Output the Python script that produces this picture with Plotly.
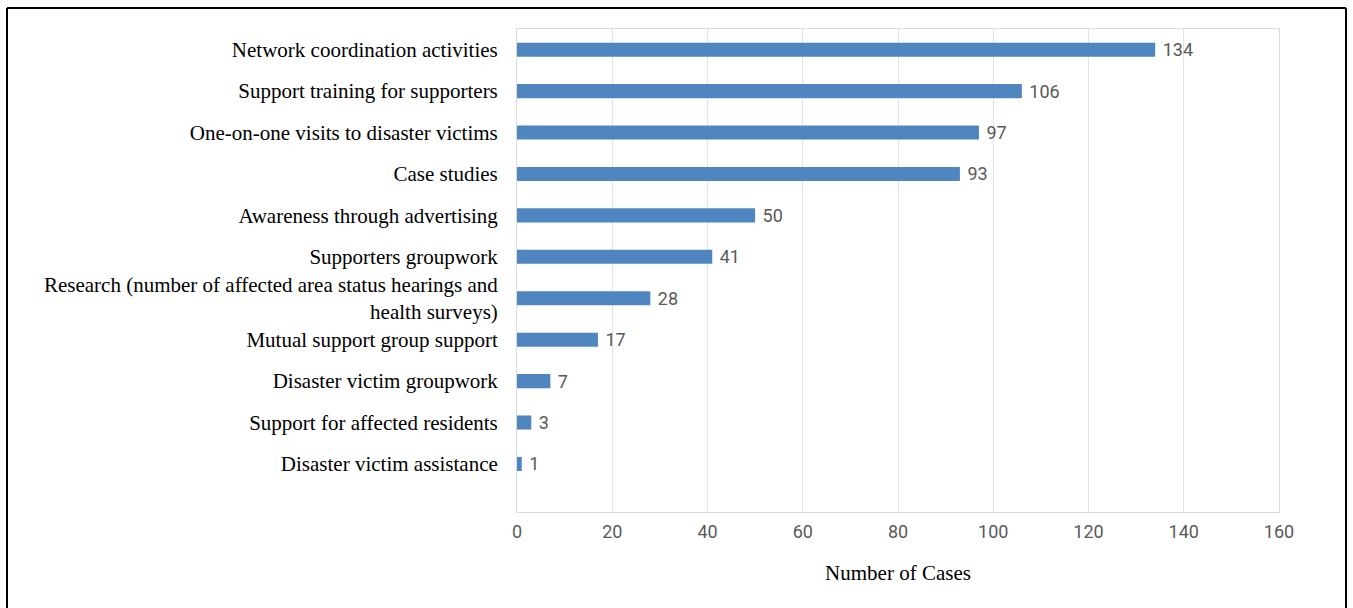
import plotly.graph_objects as go

categories = [
    "Network coordination activities",
    "Support training for supporters",
    "One-on-one visits to disaster victims",
    "Case studies",
    "Awareness through advertising",
    "Supporters groupwork",
    "Research (number of affected area status hearings and<br>health surveys)",
    "Mutual support group support",
    "Disaster victim groupwork",
    "Support for affected residents",
    "Disaster victim assistance",
]
values = [134, 106, 97, 93, 50, 41, 28, 17, 7, 3, 1]
x_ticks = [0, 20, 40, 60, 80, 100, 120, 140, 160]

W, H = 1353, 608
ML, MT = 517, 29
MR = W - 1279
MB = H - 512
pw, ph = W - ML - MR, H - MT - MB

def px_x(p):
    return (p - ML) / pw

def px_y(p):
    return (H - MB - p) / ph

num_font = "Liberation Sans Narrow, Roboto, sans-serif"
serif_font = "Liberation Serif, Times New Roman, serif"

fig = go.Figure(go.Bar(
    x=values, y=categories, orientation="h",
    marker=dict(color="#4f86c0", line=dict(width=0)),
    width=0.34,
    text=["\u00a0" + str(v) for v in values], textposition="outside",
    constraintext="none",
    textfont=dict(family=num_font, size=18, color="#595959"),
    cliponaxis=False,
))

fig.update_layout(
    width=W, height=H,
    margin=dict(l=ML, r=MR, t=MT, b=MB),
    paper_bgcolor="white", plot_bgcolor="white",
    showlegend=False,
    xaxis=dict(
        range=[0, 160], tickvals=x_ticks, ticktext=[str(t) for t in x_ticks],
        showgrid=True, gridcolor="#e3e3e3", gridwidth=1,
        showline=True, linecolor="#dcdcdc", linewidth=1, mirror=True,
        zeroline=False, ticks="", ticklabelstandoff=3,
        tickfont=dict(family=num_font, size=18, color="#595959"),
        title=dict(text="Number of Cases", standoff=24,
                   font=dict(family=serif_font, size=21, color="black")),
    ),
    yaxis=dict(
        type="category", range=[len(categories) - 1 + 1.16, -0.5],
        showgrid=False, showline=True, linecolor="#dcdcdc", mirror=True,
        ticks="", ticklabelstandoff=14,
        tickfont=dict(family=serif_font, size=21, color="black"),
    ),
)

border = dict(color="black", width=2)
fig.add_shape(type="line", xref="paper", yref="paper",
              x0=px_x(7), x1=px_x(7), y0=px_y(8), y1=px_y(620), line=border)
fig.add_shape(type="line", xref="paper", yref="paper",
              x0=px_x(7), x1=px_x(1346), y0=px_y(8), y1=px_y(8), line=border)
fig.add_shape(type="line", xref="paper", yref="paper",
              x0=px_x(1346), x1=px_x(1346), y0=px_y(8), y1=px_y(620), line=border)

fig.write_html(
    "out.html",
    config={"displayModeBar": False},
    post_script="document.body.style.margin='0';document.body.style.overflow='hidden';",
)
